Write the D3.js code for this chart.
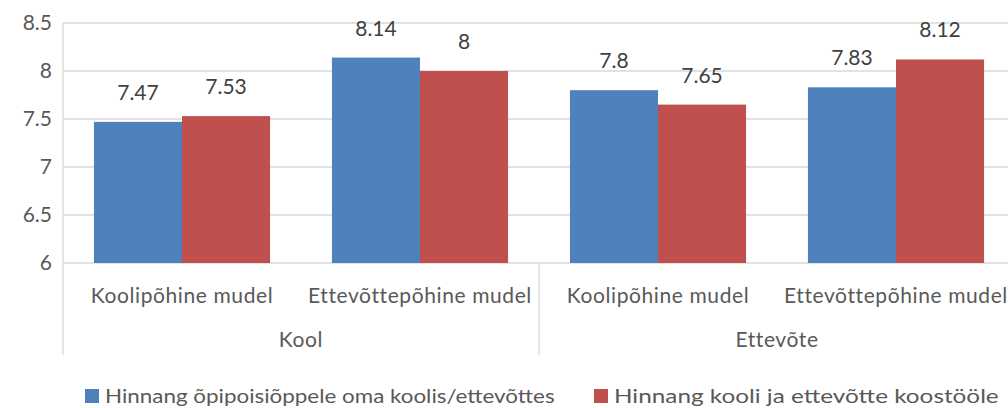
<!DOCTYPE html>
<html>
<head>
<meta charset="utf-8">
<script src="https://cdn.jsdelivr.net/npm/d3@7"></script>
<style>
  body { margin: 0; background: #fff; }
  text { font-family: Lato, "Open Sans", sans-serif; fill: #595959; }
</style>
</head>
<body>
<script>
const groups = ['Kool', 'Ettevõte'];
const models = ['Koolipõhine mudel', 'Ettevõttepõhine mudel'];
const seriesNames = ['Hinnang õpipoisiõppele oma koolis/ettevõttes', 'Hinnang kooli ja ettevõtte koostööle'];
const seriesA = [7.47, 8.14, 7.8, 7.83];
const seriesB = [7.53, 8, 7.65, 8.12];
const yTicks = [6, 6.5, 7, 7.5, 8, 8.5];
const colors = ['#4f81bd', '#c0504d'];

const width = 1008;
const height = 408;
const margin = { top: 23, left: 63, bottom: 145 };
const plotW = 952;

const cats = [];
groups.forEach((g) => models.forEach((m) => cats.push(`${g}|${m}`)));

const svg = d3.select('body').append('svg')
  .attr('width', width)
  .attr('height', height);

const x = d3.scaleBand()
  .domain(cats)
  .range([margin.left, margin.left + plotW])
  .paddingInner(0.26)
  .paddingOuter(0.13);

const xs = d3.scaleBand()
  .domain([0, 1])
  .range([0, x.bandwidth()]);

const y = d3.scaleLinear()
  .domain([6, 8.5])
  .range([height - margin.bottom, margin.top]);

// gridlines
svg.append('g')
  .selectAll('line')
  .data(yTicks)
  .enter().append('line')
  .attr('x1', margin.left)
  .attr('x2', margin.left + plotW)
  .attr('y1', d => y(d))
  .attr('y2', d => y(d))
  .attr('stroke', '#d9d9d9')
  .attr('stroke-width', 1.3);

// y labels
svg.append('g')
  .selectAll('text')
  .data(yTicks)
  .enter().append('text')
  .attr('x', 52)
  .attr('y', d => y(d) + 7)
  .attr('text-anchor', 'end')
  .style('font-size', '21px')
  .text(d => d);

// left axis line
svg.append('line')
  .attr('x1', margin.left).attr('x2', margin.left)
  .attr('y1', margin.top).attr('y2', y(6))
  .attr('stroke', '#d9d9d9').attr('stroke-width', 1.3);

const data = cats.map((c, i) => ({ c, vals: [seriesA[i], seriesB[i]] }));

const g = svg.selectAll('.cat')
  .data(data)
  .enter().append('g')
  .attr('class', 'cat')
  .attr('transform', d => `translate(${x(d.c)},0)`);

g.selectAll('rect')
  .data(d => d.vals)
  .enter().append('rect')
  .attr('x', (d, i) => xs(i))
  .attr('width', xs.bandwidth())
  .attr('y', d => y(d))
  .attr('height', d => y(6) - y(d))
  .attr('fill', (d, i) => colors[i]);

g.selectAll('.lbl')
  .data(d => d.vals)
  .enter().append('text')
  .attr('class', 'lbl')
  .attr('x', (d, i) => xs(i) + xs.bandwidth() / 2)
  .attr('y', d => y(d) - 22)
  .attr('text-anchor', 'middle')
  .style('font-size', '21px')
  .style('fill', '#404040')
  .text(d => d);

// category axis ticks
const step = x.step();
const groupW = step * models.length;
const tickX = d3.range(groups.length + 1).map(i => margin.left + i * groupW);
svg.append('g')
  .selectAll('line')
  .data(tickX)
  .enter().append('line')
  .attr('x1', d => d).attr('x2', d => d)
  .attr('y1', y(6)).attr('y2', y(6) + 92)
  .attr('stroke', '#d9d9d9').attr('stroke-width', 1.3);

svg.append('g')
  .selectAll('text')
  .data(cats)
  .enter().append('text')
  .attr('x', d => x(d) + x.bandwidth() / 2)
  .attr('y', y(6) + 40)
  .attr('text-anchor', 'middle')
  .style('font-size', '21px')
  .style('letter-spacing', '0.6px')
  .text(d => d.split('|')[1]);

svg.append('g')
  .selectAll('text')
  .data(groups)
  .enter().append('text')
  .attr('x', (d, i) => margin.left + i * groupW + groupW / 2)
  .attr('y', y(6) + 84)
  .attr('text-anchor', 'middle')
  .style('font-size', '21px')
  .style('letter-spacing', '0.6px')
  .text(d => d);

// legend
const legX = [85, 594];
const legLen = [450, 385];
const leg = svg.selectAll('.leg')
  .data(seriesNames)
  .enter().append('g')
  .attr('class', 'leg')
  .attr('transform', (d, i) => `translate(${legX[i]},389)`);

leg.append('rect')
  .attr('width', 14).attr('height', 14)
  .attr('fill', (d, i) => colors[i]);

// fit legend text to the width it has in the source
leg.append('text')
  .style('font-size', '20px')
  .text(d => d)
  .attr('transform', function (d, i) {
    const k = legLen[i] / this.getComputedTextLength();
    return `translate(20,14) scale(${k},1)`;
  });
</script>
</body>
</html>
